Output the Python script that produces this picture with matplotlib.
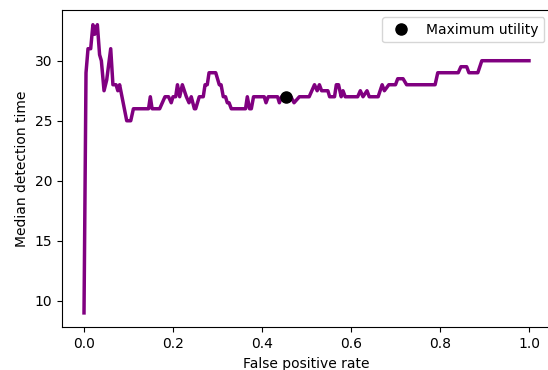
import matplotlib
matplotlib.use("Agg")
import matplotlib.pyplot as plt

# false positive rate vs median detection time
fpr = [0.0, 0.0045, 0.009, 0.015, 0.02, 0.024, 0.03, 0.035, 0.039, 0.045,
       0.051, 0.06, 0.065, 0.072, 0.076, 0.08, 0.096, 0.105, 0.111, 0.145,
       0.149, 0.153, 0.17, 0.182, 0.19, 0.196, 0.2, 0.206, 0.21, 0.215,
       0.221, 0.23, 0.236, 0.241, 0.248, 0.251, 0.259, 0.268, 0.272, 0.277,
       0.281, 0.296, 0.304, 0.308, 0.313, 0.318, 0.322, 0.326, 0.331, 0.363,
       0.367, 0.372, 0.376, 0.381, 0.405, 0.409, 0.414, 0.435, 0.439, 0.444,
       0.465, 0.472, 0.484, 0.506, 0.512, 0.518, 0.524, 0.529, 0.534, 0.548,
       0.552, 0.563, 0.567, 0.572, 0.578, 0.582, 0.587, 0.615, 0.621, 0.627,
       0.636, 0.641, 0.661, 0.67, 0.675, 0.685, 0.70, 0.705, 0.717, 0.725,
       0.789, 0.795, 0.841, 0.847, 0.86, 0.865, 0.885, 0.894, 1.0]
median_time = [9, 29, 31, 31, 33, 32.2, 33, 30.5, 30, 27.5,
               28.4, 31, 28, 28, 27.5, 28, 25, 25, 26, 26,
               27, 26, 26, 27, 27, 26.5, 27, 27, 28, 27,
               28, 27, 26.5, 27, 26, 26, 27, 27, 28, 28,
               29, 29, 28, 28, 27, 27, 26.5, 26.5, 26, 26,
               27, 26, 26, 27, 27, 26.5, 27, 27, 26.5, 27,
               27, 26.5, 27, 27, 27.5, 28, 27.5, 28, 27.5, 27.5,
               27, 27, 28, 28, 27, 27.5, 27, 27, 27.5, 27,
               27.5, 27, 27, 28, 27.5, 28, 28, 28.5, 28.5, 28,
               28, 29, 29, 29.5, 29.5, 29, 29, 30, 30]

best_fpr = 0.454
best_time = 27.0

fig = plt.figure(figsize=(5.48, 3.70), dpi=100)
ax = fig.add_axes([0.1127, 0.1154, 0.8932, 0.8568])

ax.plot(fpr, median_time, color="purple", linewidth=2.5)
ax.plot(best_fpr, best_time, "o", color="black", markersize=8,
        label="Maximum utility", linestyle="none")

ax.set_xlabel("False positive rate")
ax.set_ylabel("Median detection time")
ax.legend(loc="upper right")

fig.savefig("out.png", dpi=100)
